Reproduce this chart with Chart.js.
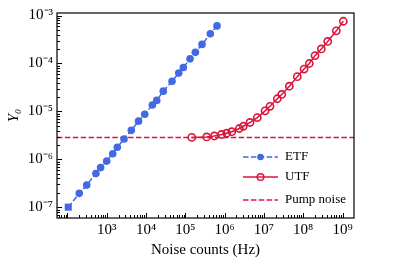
<!DOCTYPE html>
<html lang="en">
<head>
<meta charset="UTF-8">
<title>Y0 vs noise counts</title>
<script src="https://cdn.jsdelivr.net/npm/chart.js"></script>
<style>
  body { margin: 0; background: #fff; }
</style>
</head>
<body>
<canvas id="chart" width="399" height="265"></canvas>
<script>
// values
const etfX = [105, 200, 310, 530, 700, 1000, 1420, 1860, 2760, 4230, 6440, 9270,
  14500, 18700, 27500, 45900, 68000, 89000, 132000, 180000, 266000, 433000, 640000];
const etfY = [1.01e-7, 1.96e-7, 2.91e-7, 5.08e-7, 6.75e-7, 9.23e-7, 1.31e-6, 1.79e-6,
  2.67e-6, 4.04e-6, 6.28e-6, 8.77e-6, 1.36e-5, 1.70e-5, 2.65e-5, 4.26e-5, 6.31e-5,
  8.28e-5, 1.25e-4, 1.71e-4, 2.50e-4, 4.16e-4, 6.08e-4];

const utfX = [1.46e5, 3.5e5, 5.5e5, 8.4e5, 1.13e6, 1.52e6, 2.37e6, 2.99e6, 4.43e6,
  6.79e6, 1.07e7, 1.43e7, 2.19e7, 2.84e7, 4.43e7, 7.08e7, 1.05e8, 1.43e8, 2.0e8,
  2.89e8, 4.2e8, 6.95e8, 1.05e9];
const utfY = [2.88e-6, 2.94e-6, 3.08e-6, 3.31e-6, 3.52e-6, 3.78e-6, 4.41e-6, 4.91e-6,
  5.89e-6, 7.46e-6, 1.03e-5, 1.28e-5, 1.84e-5, 2.26e-5, 3.36e-5, 5.32e-5, 7.64e-5,
  1.0e-4, 1.46e-4, 2.01e-4, 2.88e-4, 4.80e-4, 7.60e-4];

const pumpNoise = 2.88e-6;

const xLabelExps = [3, 4, 5, 6, 7, 8, 9];
const yLabelExps = [-7, -6, -5, -4, -3];

const legendLabels = ['ETF', 'UTF', 'Pump noise'];

const BLUE = '#4169e1';
const RED = '#dc143c';
const SERIF = '"Liberation Serif", "Times New Roman", serif';

const XMIN = 54.3, XMAX = 1.96e9;
const YMIN = 6.08e-8, YMAX = 1.13e-3;

const SUP = { '-': '\u207b', '0': '\u2070', '1': '\u00b9', '2': '\u00b2', '3': '\u00b3',
  '4': '\u2074', '5': '\u2075', '6': '\u2076', '7': '\u2077', '8': '\u2078', '9': '\u2079' };
function powLabel(e) {
  return '10' + String(e).split('').map(c => SUP[c]).join('');
}

function logTicks(min, max) {
  const out = [];
  for (let e = Math.floor(Math.log10(min)); e <= Math.ceil(Math.log10(max)); e++) {
    for (let m = 1; m < 10; m++) {
      const v = m * Math.pow(10, e);
      if (v >= min && v <= max) out.push({ value: v, major: m === 1 });
    }
  }
  return out;
}

function labelFor(v, exps) {
  const e = Math.round(Math.log10(v));
  if (Math.abs(Math.log10(v) - e) > 1e-6) return '';
  return exps.includes(e) ? powLabel(e) : '';
}

// inward ticks, frame and the legend
const framePlugin = {
  id: 'framePlugin',
  afterDatasetsDraw(chart) {
    const { ctx, chartArea: a, scales } = chart;
    ctx.save();
    ctx.strokeStyle = '#000';
    ctx.lineWidth = 1;
    ctx.beginPath();
    scales.x.ticks.forEach(t => {
      const px = Math.round(scales.x.getPixelForValue(t.value)) + 0.5;
      const len = t.major ? 5 : 3;
      ctx.moveTo(px, a.bottom);
      ctx.lineTo(px, a.bottom - len);
    });
    scales.y.ticks.forEach(t => {
      const py = Math.round(scales.y.getPixelForValue(t.value)) + 0.5;
      const len = t.major ? 5 : 3;
      ctx.moveTo(a.left, py);
      ctx.lineTo(a.left + len, py);
    });
    ctx.stroke();
    ctx.lineWidth = 1.2;
    ctx.strokeRect(a.left, a.top, a.right - a.left, a.bottom - a.top);

    // legend
    const x0 = 243, x1 = 278, tx = 285;
    const rows = [157, 177, 200];
    ctx.font = '13px ' + SERIF;
    ctx.textBaseline = 'middle';
    ctx.fillStyle = '#000';
    chart.data.datasets.forEach((ds, i) => {
      const y = rows[i];
      ctx.save();
      ctx.strokeStyle = ds.borderColor;
      ctx.lineWidth = 1.5;
      ctx.setLineDash(ds.borderDash || []);
      ctx.beginPath();
      ctx.moveTo(x0, y);
      ctx.lineTo(x1, y);
      ctx.stroke();
      ctx.setLineDash([]);
      if (i < 2) {
        ctx.beginPath();
        ctx.arc((x0 + x1) / 2, y, 3.3, 0, Math.PI * 2);
        if (i === 0) { ctx.fillStyle = BLUE; ctx.fill(); }
        else { ctx.strokeStyle = RED; ctx.stroke(); }
      }
      ctx.restore();
      ctx.fillText(legendLabels[i], tx, y);
    });
    ctx.restore();
  }
};

new Chart(document.getElementById('chart'), {
  type: 'line',
  data: {
    datasets: [
      {
        label: legendLabels[0],
        data: etfX.map((x, i) => ({ x: x, y: etfY[i] })),
        borderColor: BLUE,
        backgroundColor: BLUE,
        borderWidth: 1.5,
        borderDash: [5.5, 2.4],
        pointStyle: etfX.map((x, i) => i === 0 ? 'rect' : 'circle'),
        pointRadius: etfX.map((x, i) => i === 0 ? 5 : 3.8),
        pointBorderWidth: 0,
        pointBackgroundColor: BLUE,
        tension: 0
      },
      {
        label: legendLabels[1],
        data: utfX.map((x, i) => ({ x: x, y: utfY[i] })),
        borderColor: RED,
        borderWidth: 1.5,
        pointRadius: 3.6,
        pointBorderWidth: 1.6,
        pointBorderColor: RED,
        pointBackgroundColor: 'rgba(0,0,0,0)',
        tension: 0
      },
      {
        label: legendLabels[2],
        data: [{ x: XMIN, y: pumpNoise }, { x: XMAX, y: pumpNoise }],
        borderColor: RED,
        borderWidth: 1.5,
        borderDash: [5.5, 2.4],
        pointRadius: 0
      }
    ]
  },
  options: {
    responsive: false,
    animation: false,
    layout: { padding: { top: 11, right: 45, left: 0, bottom: 0 } },
    plugins: { legend: { display: false }, tooltip: { enabled: false } },
    scales: {
      x: {
        type: 'logarithmic',
        min: XMIN,
        max: XMAX,
        afterBuildTicks: s => { s.ticks = logTicks(XMIN, XMAX); },
        afterFit: s => { s.height = 47; },
        grid: { display: false, drawTicks: false },
        border: { display: false },
        ticks: {
          autoSkip: false,
          maxRotation: 0,
          padding: 3,
          color: '#000',
          font: { family: SERIF, size: 15 },
          callback: v => labelFor(v, xLabelExps)
        },
        title: {
          display: true,
          text: 'Noise counts (Hz)',
          color: '#000',
          font: { family: SERIF, size: 15 },
          padding: { top: 0, bottom: 6 }
        }
      },
      y: {
        type: 'logarithmic',
        min: YMIN,
        max: YMAX,
        afterBuildTicks: s => { s.ticks = logTicks(YMIN, YMAX); },
        afterFit: s => { s.width = 57; },
        grid: { display: false, drawTicks: false },
        border: { display: false },
        ticks: {
          autoSkip: false,
          padding: 4,
          color: '#000',
          font: { family: SERIF, size: 15 },
          callback: v => labelFor(v, yLabelExps)
        },
        title: {
          display: true,
          text: 'Y\u2080',
          color: '#000',
          font: { family: SERIF, size: 15, style: 'italic' },
          padding: { top: 5, bottom: 0 }
        }
      }
    }
  },
  plugins: [framePlugin]
});
</script>
</body>
</html>
